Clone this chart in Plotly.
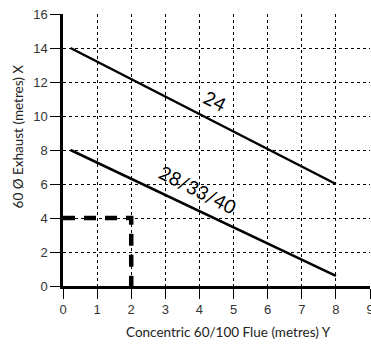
import plotly.graph_objects as go

# boiler output curves
line_24_x = [0.22, 8]
line_24_y = [14, 6]
line_28_x = [0.22, 8]
line_28_y = [8, 0.6]

# example reading
example_x = [0, 2, 2]
example_y = [4, 4, 0]

x_ticks = [0, 1, 2, 3, 4, 5, 6, 7, 8, 9]
y_ticks = [0, 2, 4, 6, 8, 10, 12, 14, 16]

fig = go.Figure()
fig.add_trace(go.Scatter(x=line_24_x, y=line_24_y, mode='lines',
                         line=dict(color='black', width=2.5)))
fig.add_trace(go.Scatter(x=line_28_x, y=line_28_y, mode='lines',
                         line=dict(color='black', width=2.5)))
fig.add_trace(go.Scatter(x=example_x, y=example_y, mode='lines',
                         line=dict(color='black', width=4.5, dash='12px,9px')))

fig.add_annotation(x=4.45, y=10.9, text='24', showarrow=False, textangle=27,
                   font=dict(family='Lato', size=19, color='black'))
fig.add_annotation(x=3.95, y=5.65, text='28/33/40', showarrow=False, textangle=27,
                   font=dict(family='Lato', size=19, color='black'))

# axis titles as annotations (x title sits right of centre in the original)
title_font = dict(family='Lato', size=13.5, color='#222')
fig.add_annotation(xref='paper', yref='paper', x=0.5375, y=0, yshift=-46,
                   xanchor='center', yanchor='middle',
                   text='Concentric 60/100 Flue (metres) Y', showarrow=False,
                   font=title_font)
fig.add_annotation(xref='paper', yref='paper', x=0, y=0.55, xshift=-45,
                   xanchor='center', yanchor='middle',
                   text='60 Ø Exhaust (metres) X', showarrow=False, textangle=-90,
                   font=title_font)

axis_style = dict(showline=True, linecolor='black', linewidth=2.5,
                  ticks='outside', ticklen=10, tickwidth=1, tickcolor='black',
                  showgrid=True, gridcolor='black', gridwidth=1, griddash='dot',
                  zeroline=False, automargin=False, ticklabeloverflow='allow',
                  tickfont=dict(family='Liberation Sans', size=13, color='#333'))

fig.update_layout(
    width=371, height=347,
    margin=dict(l=63, r=1, t=14, b=61),
    plot_bgcolor='white', paper_bgcolor='white',
    showlegend=False,
    xaxis=dict(range=[0, 9], tickvals=x_ticks, **axis_style),
    yaxis=dict(range=[0, 16], tickvals=y_ticks, **axis_style),
)

# drop the default page margin so the chart sits at the window's corner
fig.write_html("out.html", config={'displayModeBar': False},
               post_script="document.body.style.margin='0';")
